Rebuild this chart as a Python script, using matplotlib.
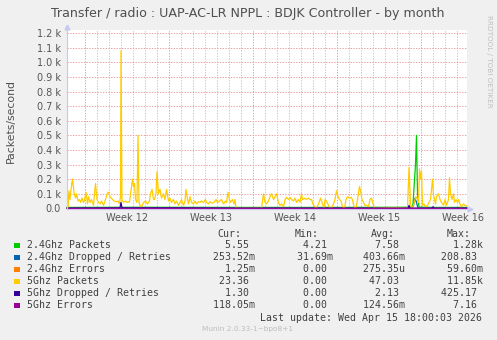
import numpy as np
import matplotlib
matplotlib.use("Agg")
from matplotlib import pyplot as plt
from matplotlib.patches import Rectangle

W, H = 497, 340

# time axis: hours since Monday of Week 12 (2 h per sample in the monthly view)
x_range = (-36, 764)
week_starts = [0, 168, 336, 504, 672]
week_labels = ["Week 12", "Week 13", "Week 14", "Week 15", "Week 16"]

# 5Ghz Packets (packets/second)
p5_t = [-36, -34, -32, -30, -28, -25, -22, -19, -17, -14, -11, -9, -6, -3, -1, 2, 5, 7, 10, 13,
        17, 19, 21, 24, 27, 30, 33, 37, 41, 45, 47, 50, 54, 58, 62, 66, 69, 71, 72, 74,
        77, 81, 85, 89, 92, 95, 97, 99, 101, 104, 106, 108, 110, 113, 117, 121, 125, 129, 131, 134,
        137, 139, 142, 144, 147, 150, 153, 157, 160, 163, 167, 170, 173, 177, 180, 183, 187, 190, 193, 197,
        200, 202, 205, 207, 210, 213, 217, 220, 223, 227, 230, 233, 237, 241, 243, 247, 250, 254, 258, 262,
        265, 269, 273, 277, 281, 283, 286, 289, 291, 295, 298, 300, 302, 353, 357, 360, 363, 367, 370, 373,
        377, 380, 383, 387, 390, 393, 397, 400, 403, 407, 410, 413, 417, 420, 423, 427, 430, 433, 435, 439,
        442, 447, 450, 453, 457, 460, 463, 467, 471, 475, 478, 480, 483, 487, 490, 493, 497, 500, 503, 505,
        509, 512, 515, 519, 522, 525, 529, 532, 535, 538, 542, 545, 549, 551, 554, 557, 560, 563, 567, 570,
        573, 577, 579, 600, 620, 645, 648, 651, 653, 657, 660, 662, 665, 667, 669, 671, 673, 675, 678, 681,
        685, 688, 691, 695, 697, 701, 703, 707, 710, 713, 717, 720, 723, 727, 729, 731, 734, 737, 739, 742,
        745, 747, 750, 753, 757, 760, 764]
p5_v = [0, 0, 120, 60, 130, 200, 110, 70, 100, 50, 60, 40, 70, 40, 55, 110, 30, 80, 40, 60,
        20, 100, 170, 60, 40, 30, 50, 20, 60, 105, 110, 80, 65, 50, 45, 50, 30, 80, 1080, 60,
        40, 50, 40, 45, 120, 200, 150, 170, 60, 40, 500, 40, 20, 10, 40, 50, 30, 50, 100, 130,
        60, 60, 100, 250, 100, 130, 70, 100, 60, 130, 50, 70, 40, 60, 30, 50, 20, 40, 60, 20,
        50, 130, 60, 30, 80, 40, 30, 50, 30, 45, 40, 50, 40, 60, 40, 30, 45, 35, 40, 60,
        40, 50, 60, 30, 50, 40, 110, 60, 40, 60, 30, 60, 0, 0, 100, 40, 30, 50, 80, 100,
        60, 80, 100, 40, 20, 30, 10, 60, 75, 60, 75, 60, 50, 70, 40, 60, 40, 100, 60, 70,
        60, 70, 60, 60, 20, 10, 0, 30, 70, 30, 0, 60, 50, 20, 0, 0, 30, 60, 120, 90,
        60, 50, 10, 0, 60, 80, 70, 75, 60, 10, 0, 60, 150, 120, 60, 40, 20, 20, 10, 60,
        70, 20, 0, 3, 5, 0, 280, 30, 0, 20, 60, 80, 60, 40, 270, 200, 250, 20, 30, 10,
        20, 40, 60, 200, 90, 30, 80, 100, 60, 40, 20, 60, 20, 60, 210, 100, 60, 100, 40, 60,
        40, 60, 30, 10, 30, 20, 15]

# 2.4Ghz Packets
p24_t = [-36, 100, 300, 500, 640, 654, 656, 661, 663, 665, 668, 700, 764]
p24_v = [6, 7, 6, 6, 7, 8, 30, 300, 500, 100, 8, 6, 6]
# 2.4Ghz Dropped / Retries
d24_t = [-36, 654, 657, 660, 663, 666, 764]
d24_v = [0, 0, 20, 70, 40, 0, 0]
# 2.4Ghz Errors
e24_t = [-36, 764]
e24_v = [0, 0]
# 5Ghz Dropped / Retries
d5_t = [-36, 20, 70, 72, 74, 180, 300, 646, 648, 650, 694, 696, 698, 764]
d5_v = [1, 2, 3, 40, 3, 3, 1, 1, 20, 1, 1, 10, 1, 1]
# 5Ghz Errors
e5_t = [-36, 764]
e5_v = [0, 0]

names = ["2.4Ghz Packets", "2.4Ghz Dropped / Retries", "2.4Ghz Errors",
         "5Ghz Packets", "5Ghz Dropped / Retries", "5Ghz Errors"]
colors = ["#00CC00", "#0066B3", "#FF8000", "#FFCC00", "#330099", "#990099"]
cur = ["5.55 ", "253.52m", "1.25m", "23.36 ", "1.30 ", "118.05m"]
mins = ["4.21 ", "31.69m", "0.00 ", "0.00 ", "0.00 ", "0.00 "]
avgs = ["7.58 ", "403.66m", "275.35u", "47.03 ", "2.13 ", "124.56m"]
maxs = ["1.28k", "208.83 ", "59.60m", "11.85k", "425.17 ", "7.16 "]

series = [(p24_t, p24_v), (d24_t, d24_v), (e24_t, e24_v),
          (p5_t, p5_v), (d5_t, d5_v), (e5_t, e5_v)]

TXT = "#404040"

fig = plt.figure(figsize=(W / 100, H / 100), dpi=100, facecolor="#F0F0F0")
ax = fig.add_axes([67 / W, 1 - 208.5 / H, 400 / W, 179 / H])
ax.set_facecolor("white")
ax.set_xlim(x_range)
ax.set_ylim(-1.5, 1226)

# grid
for h in range(0, x_range[1], 24):
    if h in week_starts:
        continue
    ax.axvline(h, color="#c8c8c8", lw=0.7, dashes=(1.4, 1.4), zorder=0)
for h in week_starts:
    ax.axvline(h, color="#eaa0a0", lw=0.7, dashes=(1.4, 1.4), zorder=0)
yt = np.arange(0, 1300, 100)
for y in yt[1:]:
    ax.axhline(y, color="#eaa0a0", lw=0.7, dashes=(1.4, 1.4), zorder=0)

# data, same drawing order as munin
for (t, v), c in zip(series, colors):
    ax.plot(t, v, color=c, lw=0.9, zorder=2, clip_on=False)

for s in ["top", "right"]:
    ax.spines[s].set_visible(False)
for s in ["left", "bottom"]:
    ax.spines[s].set_color("#c8c8f0")
    ax.spines[s].set_linewidth(0.8)
ax.plot([0], [1.015], marker="^", ms=3.5, color="#c8c8f0", transform=ax.transAxes, clip_on=False)
ax.plot([1.008], [0], marker=">", ms=3.5, color="#c8c8f0", transform=ax.transAxes, clip_on=False)

ax.set_yticks(yt)
ax.set_yticklabels(["0.0"] + ["%.1f k" % (y / 1000) for y in yt[1:]])
ax.set_xticks([w + 84 for w in week_starts])
ax.set_xticklabels(week_labels)
ax.tick_params(length=0, labelsize=7, colors="#555555")
ax.tick_params(axis="y", pad=4.5)
ax.tick_params(axis="x", pad=3)

fig.text(248 / W, 1 - 13.5 / H, "Transfer / radio : UAP-AC-LR NPPL : BDJK Controller - by month",
         ha="center", va="center", fontsize=9.1, color="#505050")
fig.text(10.5 / W, 1 - 121 / H, "Packets/second", rotation=90, ha="center", va="center",
         fontsize=7.8, color="#505050")
fig.text(489 / W, 1 - 15 / H, "RRDTOOL / TOBI OETIKER", rotation=270, ha="center", va="top",
         fontsize=5.2, color="#c0c0c0")

# legend
mono = dict(family="DejaVu Sans Mono", fontsize=7.15, color=TXT, va="center")
for lbl, xp in zip(["Cur:", "Min:", "Avg:", "Max:"], [217, 295, 370.7, 447]):
    fig.text(xp / W, 1 - 234 / H, lbl, ha="left", **mono)
for i, n in enumerate(names):
    yc = 245.5 + 12 * i
    fig.patches.append(Rectangle((14 / W, 1 - (yc + 2.5) / H), 5.5 / W, 5.5 / H,
                                 transform=fig.transFigure, facecolor=colors[i], edgecolor="none"))
    row = f"{n:<31}{cur[i]:>7}{mins[i]:>13}{avgs[i]:>12}{maxs[i]:>13}"
    fig.text(27 / W, 1 - yc / H, row, ha="left", **mono)
fig.text(482.5 / W, 1 - 318 / H, "Last update: Wed Apr 15 18:00:03 2026", ha="right", **mono)
fig.text(248 / W, 1 - 329 / H, "Munin 2.0.33-1~bpo8+1", ha="center", va="center",
         fontsize=5.3, color="#bdbdbd")

fig.savefig("out.png", dpi=100, facecolor=fig.get_facecolor())
